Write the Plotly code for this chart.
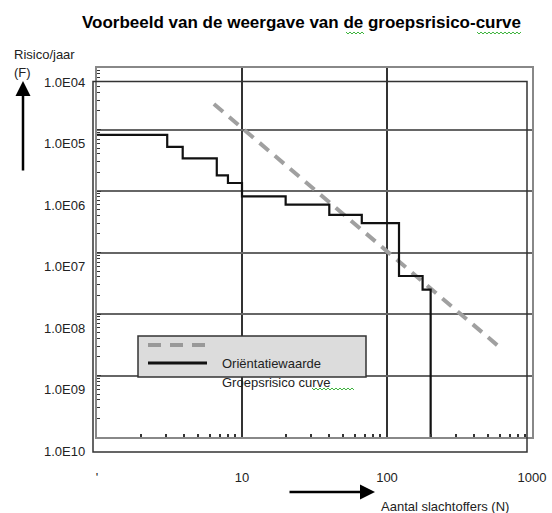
import math
import plotly.graph_objects as go

# ---- data ----
curve_N = [1, 3.05, 3.9, 6.7, 8.0, 10, 20, 40, 67, 121, 176, 200]
curve_F = [8.2e-6, 5.2e-6, 3.4e-6, 1.8e-6, 1.35e-6, 8.2e-7, 6.0e-7, 4.1e-7, 3.0e-7, 4.15e-8, 2.5e-8, 1e-10]

orient_N = [6.4, 630]
orient_F = [2.6e-5, 2.6e-9]

x_tick_vals = [1, 10, 100, 1000]
x_tick_text = ["'", "10", "100", "1000"]
y_tick_vals = [1e-4, 1e-5, 1e-6, 1e-7, 1e-8, 1e-9, 1e-10]
y_tick_text = ["1.0E04", "1.0E05", "1.0E06", "1.0E07", "1.0E08", "1.0E09", "1.0E10"]

title_text = "Voorbeeld van de weergave van de groepsrisico-curve"
legend_names = ["Oriëntatiewaarde", "Groepsrisico curve"]
y_title = "Risico/jaar"
y_sub = "(F)"
x_title = "Aantal slachtoffers (N)"

FONT = "Liberation Sans, Arial, sans-serif"
TXT = "#222222"

# plot area in pixels
W, H = 552, 513
L, R, T, B = 97, 20, 68, 76
PW, PH = W - L - R, H - T - B


def px(x):
    return (x - L) / PW


def py(y):
    return (H - B - y) / PH


def squiggle(x0, x1, y):
    pts = []
    n = int((x1 - x0) / 2)
    for i in range(n + 1):
        xx = x0 + i * 2
        yy = y + (1 if i % 2 else -1)
        pts.append("%s %.4f,%.4f" % ("M" if i == 0 else "L", px(xx), py(yy)))
    return dict(type="path", xref="paper", yref="paper", path=" ".join(pts),
                line=dict(color="#3cb43c", width=1), layer="above")


minor_x = [m * 10 ** d for d in range(0, 3) for m in range(2, 10)]
minor_y = [m * 10.0 ** d for d in range(-10, -4) for m in range(2, 10)]

fig = go.Figure()
fig.add_trace(go.Scatter(
    x=orient_N, y=orient_F, mode="lines", name=legend_names[0],
    line=dict(color="#a0a0a0", width=4, dash="12px,8px"), showlegend=False))
fig.add_trace(go.Scatter(
    x=curve_N, y=curve_F, mode="lines", name=legend_names[1], line_shape="hv",
    line=dict(color="#111111", width=2.2), showlegend=False))

fig.update_xaxes(
    type="log", range=[0, 3], tickmode="array", tickvals=x_tick_vals, ticktext=x_tick_text,
    ticks="inside", ticklen=7, tickcolor="#333", tickwidth=1.5,
    showgrid=True, gridcolor="#333333", gridwidth=1.5,
    showline=True, linecolor="#888888", linewidth=2, mirror=True,
    ticklabelstandoff=27, tickfont=dict(family=FONT, size=13, color=TXT),
    minor=dict(tickmode="array", tickvals=minor_x, ticks="inside", ticklen=3,
               tickcolor="#333", showgrid=False),
    zeroline=False, automargin=False)
fig.update_yaxes(
    type="log", range=[-10, -4], tickmode="array", tickvals=y_tick_vals,
    showticklabels=False, ticks="inside", ticklen=4, tickcolor="#333",
    showgrid=True, gridcolor="#666666", gridwidth=2,
    showline=True, linecolor="#888888", linewidth=2, mirror=True,
    minor=dict(tickmode="array", tickvals=minor_y, ticks="inside", ticklen=3,
               tickcolor="#333", showgrid=False),
    zeroline=False, automargin=False)

annotations = []
for v, t in zip(y_tick_vals, y_tick_text):
    annotations.append(dict(x=px(87), xref="paper", y=math.log10(v), yref="y",
                            text=t, showarrow=False, xanchor="right", yanchor="middle",
                            yshift=-14, font=dict(family=FONT, size=13, color=TXT)))

annotations += [
    dict(x=px(301), y=py(23), xref="paper", yref="paper", text="<b>%s</b>" % title_text,
         showarrow=False, xanchor="center", yanchor="middle",
         font=dict(family="Liberation Sans, Arial", size=17, color="#000")),
    dict(x=px(12), y=py(55), xref="paper", yref="paper", text=y_title, showarrow=False,
         xanchor="left", yanchor="middle", font=dict(family=FONT, size=13, color=TXT)),
    dict(x=px(12), y=py(73), xref="paper", yref="paper", text=y_sub, showarrow=False,
         xanchor="left", yanchor="middle", font=dict(family=FONT, size=13, color=TXT)),
    dict(x=px(379), y=py(506), xref="paper", yref="paper", text=x_title, showarrow=False,
         xanchor="left", yanchor="middle", font=dict(family=FONT, size=13, color=TXT)),
    dict(x=px(220), y=py(363), xref="paper", yref="paper", text=legend_names[0], showarrow=False,
         xanchor="left", yanchor="middle", font=dict(family=FONT, size=13, color=TXT)),
    dict(x=px(220), y=py(382), xref="paper", yref="paper", text=legend_names[1], showarrow=False,
         xanchor="left", yanchor="middle", font=dict(family=FONT, size=13, color=TXT)),
    # arrows
    dict(x=px(23), y=py(81), xref="paper", yref="paper", text="", showarrow=True,
         ax=0, ay=91, axref="pixel", ayref="pixel", arrowhead=2, arrowsize=1.2,
         arrowwidth=2.5, arrowcolor="#000"),
    dict(x=px(375), y=py(492), xref="paper", yref="paper", text="", showarrow=True,
         ax=-87, ay=0, axref="pixel", ayref="pixel", arrowhead=2, arrowsize=1.2,
         arrowwidth=2.5, arrowcolor="#000"),
]

shapes = [
    # offset outer frame
    dict(type="rect", xref="paper", yref="paper", x0=px(93), x1=px(527), y0=py(452), y1=py(81.5),
         line=dict(color="#333333", width=1.5), layer="above"),
    # legend box
    dict(type="rect", xref="paper", yref="paper", x0=px(138), x1=px(366), y0=py(377), y1=py(336),
         fillcolor="#dcdcdc", line=dict(color="#333333", width=1.5), layer="above"),
    dict(type="line", xref="paper", yref="paper", x0=px(148), x1=px(209), y0=py(345), y1=py(345),
         line=dict(color="#999999", width=4, dash="13px,9px"), layer="above"),
    dict(type="line", xref="paper", yref="paper", x0=px(148), x1=px(207), y0=py(363), y1=py(363),
         line=dict(color="#111111", width=3), layer="above"),
    squiggle(346, 364, 33),
    squiggle(477, 522, 33),
    squiggle(312, 355, 389),
]

fig.update_layout(
    width=W, height=H, margin=dict(l=L, r=R, t=T, b=B, pad=0),
    paper_bgcolor="white", plot_bgcolor="white",
    annotations=annotations, shapes=shapes, showlegend=False)

fig.write_html("out.html", config={"displayModeBar": False},
               post_script="document.body.style.margin='0px';")
